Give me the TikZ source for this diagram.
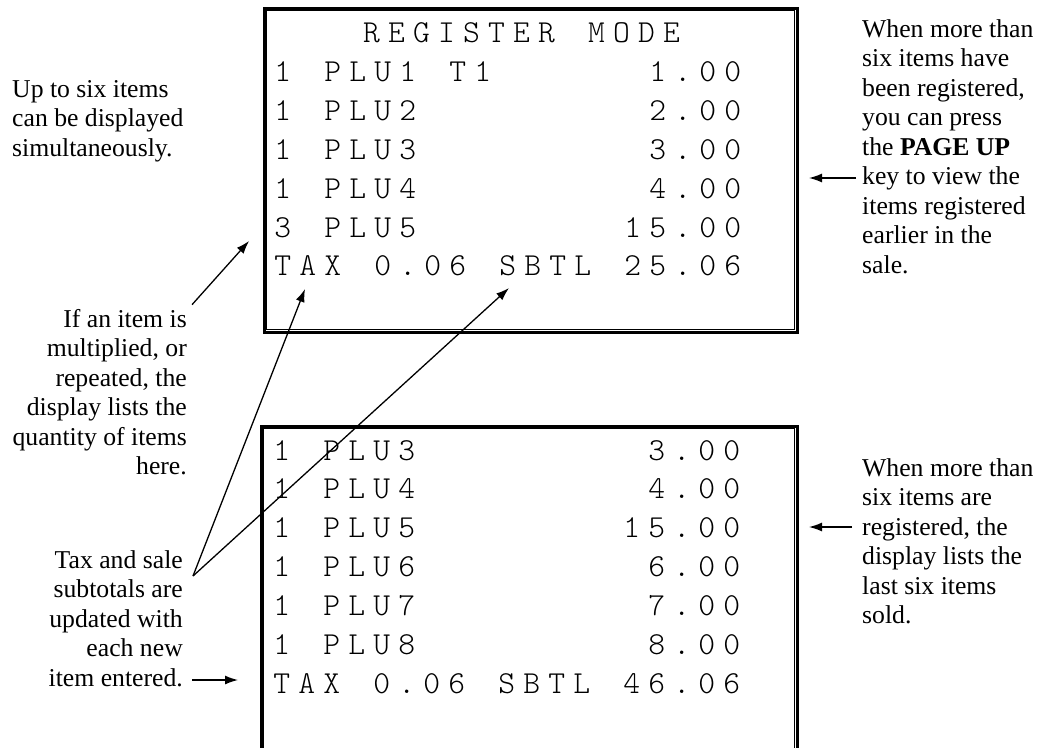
\documentclass[tikz,border=0pt]{standalone}
\usepackage{fontspec}
\setmainfont{Liberation Serif}
\newfontfamily\lcdfont{Latin Modern Mono Light}
\usetikzlibrary{arrows.meta,calc}
\makeatletter
% one character per fixed cell, like the display
\newcommand\lcdtext[1]{\expandafter\lcd@loop\expandafter{#1}}
\newcommand\lcd@loop[1]{\@tfor\lcd@ch:=#1\do{\makebox[25pt]{\lcd@ch}}}
\makeatother

\begin{document}
\begin{tikzpicture}[x=1pt,y=-1pt,>=Latex,
 note/.style={inner sep=0pt,font=\fontsize{25.7}{29.5}\selectfont},
 lcd/.style={inner sep=0pt,anchor=base west,font=\lcdfont\fontsize{32}{39}\selectfont},
 frame/.style={draw,line width=3pt,inner sep=0pt,anchor=north west},
 inframe/.style={line width=1.4pt},
 ar/.style={-{Latex[length=13pt,width=9pt]},line width=1.3pt}]
 \useasboundingbox (0,0) rectangle (1054,747);
 % display frames
 \node[frame,minimum width=533pt,minimum height=324pt] (topbox) at (262.5,6.5) {};
 \draw[inframe] ([shift={(3.8,3.8)}]topbox.north west) rectangle ([shift={(-3.8,-3.8)}]topbox.south east);
 \node[frame,minimum width=536pt,minimum height=340pt] (botbox) at (259.5,424.5) {};
 \draw[inframe] ([shift={(3.8,3.8)}]botbox.north west) rectangle ([shift={(-3.8,-3.8)}]botbox.south east);
 % display lines
 \node[lcd,anchor=base] (title) at (521.5,42.5) {\lcdtext{REGISTER~MODE}};
 \foreach \txt [count=\i] in {{1~PLU1~T1~~~~~~1.00},{1~PLU2~~~~~~~~~2.00},{1~PLU3~~~~~~~~~3.00},
   {1~PLU4~~~~~~~~~4.00},{3~PLU5~~~~~~~~15.00},{TAX~0.06~SBTL~25.06}}
  \node[lcd] (toprow\i) at (270,{42.5+38.9*\i}) {\lcdtext{\txt}};
 \foreach \txt [count=\i] in {{1~PLU3~~~~~~~~~3.00},{1~PLU4~~~~~~~~~4.00},{1~PLU5~~~~~~~~15.00},
   {1~PLU6~~~~~~~~~6.00},{1~PLU7~~~~~~~~~7.00},{1~PLU8~~~~~~~~~8.00},{TAX~0.06~SBTL~46.06}}
  \node[lcd] (botrow\i) at (269,{421.1+38.9*\i}) {\lcdtext{\txt}};
 % notes (base = last line)
 \node[note,anchor=base west,align=left] (sixitems) at (12,156) {Up to six items\\can be displayed\\simultaneously.};
 \node[note,anchor=base east,align=right] (qtynote) at (187,474.5) {If an item is\\multiplied, or\\repeated, the\\display lists the\\quantity of items\\here.};
 \node[note,anchor=base east,align=right] (taxnote) at (183,686) {Tax and sale\\subtotals are\\updated with\\each new\\item entered.};
 \node[note,anchor=base west,align=left] (pageup) at (862,273) {When more than\\six items have\\been registered,\\you can press\\the \textbf{PAGE UP}\\key to view the\\items registered\\earlier in the\\sale.};
 \node[note,anchor=base west,align=left] (lastsix) at (862,623.5) {When more than\\six items are\\registered, the\\display lists the\\last six items\\sold.};
 % arrow ends
 \coordinate (qtytip) at (249,241);
 \coordinate (taxtip) at (305,289);
 \coordinate (sbtltip) at (509,288);
 \coordinate (taxfork) at (193,576);
 \coordinate (entrytip) at (238,680);
 \coordinate (pagetip) at (809,178);
 \coordinate (lasttip) at (809,527);
 \draw[ar] ($(qtynote.north east)+(5,-4)$) -- (qtytip);
 \draw[ar] (taxfork) -- (taxtip);
 \draw[ar] (taxfork) -- (sbtltip);
 \draw[ar] ($(entrytip -| taxnote.east)+(9,0)$) -- (entrytip);
 \draw[ar] ($(pagetip -| pageup.west)+(-6,0)$) -- (pagetip);
 \draw[ar] ($(lasttip -| lastsix.west)+(-10,0)$) -- (lasttip);
\end{tikzpicture}
\end{document}
